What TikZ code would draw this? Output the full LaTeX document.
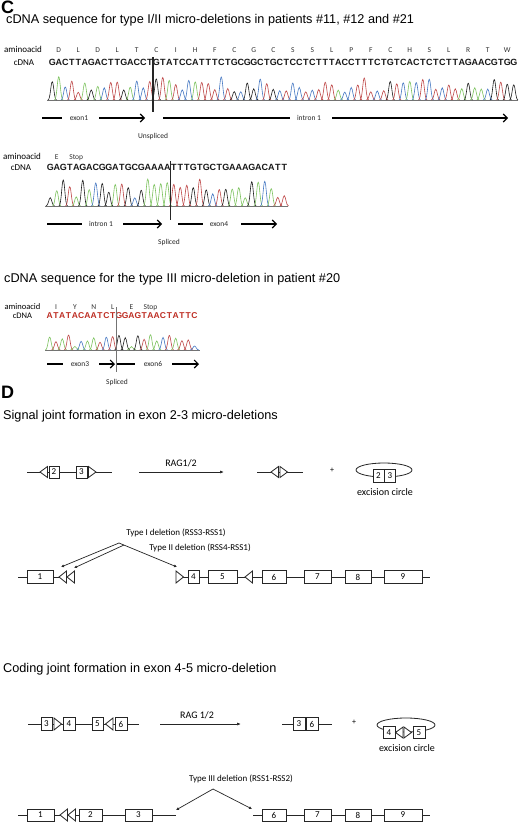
\documentclass[tikz,border=0pt]{standalone}
\usepackage{fontspec}
\setmainfont{Liberation Sans}
\newfontfamily\calfont{Carlito}
\usetikzlibrary{arrows.meta}
\definecolor{baseA}{RGB}{125,195,95}
\definecolor{baseC}{RGB}{70,120,195}
\definecolor{baseG}{RGB}{30,30,30}
\definecolor{baseT}{RGB}{190,70,70}
\definecolor{seqred}{RGB}{190,45,35}

\tikzset{
  gline/.style={line width=0.8pt, draw=black!85},
  gbox/.style={draw=black!85, line width=0.8pt, fill=white, inner sep=0pt, minimum height=13pt,
    font=\calfont\fontsize{9}{9}\selectfont},
  tri/.style={draw=black!85, line width=0.8pt, fill=white, line join=miter},
  peak/.style={line width=0.6pt},
  chrombase/.style={line width=0.5pt, draw=black!55},
  lab7/.style={font=\calfont\fontsize{7.5}{8}\selectfont, inner sep=0pt, text=black!85},
  lab8/.style={font=\calfont\fontsize{8}{9}\selectfont, inner sep=0pt},
  lab9/.style={font=\calfont\fontsize{9}{10}\selectfont, inner sep=0pt, anchor=base},
  lab10/.style={font=\calfont\fontsize{10}{11}\selectfont, inner sep=0pt, anchor=base},
  rowlab/.style={font=\calfont\fontsize{9}{10}\selectfont, inner sep=0pt, anchor=base},
  rowlabs/.style={font=\calfont\fontsize{8.5}{9}\selectfont, inner sep=0pt, anchor=base},
  titletxt/.style={font=\fontsize{12.7}{14}\selectfont, anchor=base west, inner sep=0pt},
  paneltxt/.style={font=\bfseries\fontsize{18}{18}\selectfont, anchor=base west, inner sep=0pt},
  seqbold/.style={font=\bfseries\fontsize{9}{9}\selectfont, anchor=base, inner sep=0pt, text=black!90},
  seqredtxt/.style={font=\bfseries\fontsize{8.5}{9}\selectfont, anchor=base, inner sep=0pt, text=seqred},
  aafont/.style={font=\calfont\fontsize{7.5}{8}\selectfont, anchor=base, inner sep=0pt, text=black!80},
  seqline/.style={line width=1.1pt, draw=black},
  seqarr/.style={line width=1.1pt, draw=black, -{Straight Barb[length=4pt,width=8pt]}},
  cutline/.style={line width=1.3pt, draw=black!85},
  ragarrow/.style={line width=0.7pt, draw=black!85, -{Latex[length=4pt,width=3pt]}},
  delarrow/.style={line width=0.7pt, draw=black!85, {Latex[length=3pt,width=3pt]}-{Latex[length=3pt,width=3pt]}},
  delarrowone/.style={line width=0.7pt, draw=black!85, -{Latex[length=3pt,width=3pt]}},
}

\newcommand{\chromat}[7]{%
  \pgfmathsetseed{#4}%
  \foreach \b [count=\i] in {#7} {%
    \pgfmathsetmacro{\xx}{#1+(\i-0.5)*#3}%
    \pgfmathsetmacro{\hh}{#5+rnd*#6}%
    \draw[peak,color=base\b] (\xx-4.3,#2) .. controls (\xx-1.9,#2) and (\xx-1.4,#2-\hh) .. (\xx,#2-\hh) .. controls (\xx+1.4,#2-\hh) and (\xx+1.9,#2) .. (\xx+4.3,#2);
  }}
\newcommand{\seqtext}[6]{%
  \foreach \b [count=\i] in {#6} {%
    \pgfmathsetmacro{\xx}{#1+(\i-0.5)*#3}%
    \node[#4] (#5\i) at (\xx,#2) {\b};
  }}
\newcommand{\triL}[3]{\draw[tri] (#1,#2) -- (#1+7.5,#2-#3) -- (#1+7.5,#2+#3) -- cycle;}
\newcommand{\triR}[3]{\draw[tri] (#1,#2-#3) -- (#1+7.5,#2) -- (#1,#2+#3) -- cycle;}

\begin{document}
\begin{tikzpicture}[x=1pt,y=-1pt]
\useasboundingbox (0,0) rectangle (520,824);
\fill[white] (0,0) rectangle (520,824);

% ---------------- Panel C ----------------
\node[paneltxt] (panC) at (1,13.8) {C};
\node[titletxt] (title1) at (6,23.5) {cDNA sequence for type I/II micro-deletions in patients \#11, \#12 and \#21};

% block 1
\node[rowlab] (aa1lab) at (23,53) {aminoacid};
\node[rowlab] (cd1lab) at (24,66) {cDNA};
\seqtext{49}{53}{19.5}{aafont}{aa}{D,L,D,L,T,C,I,H,F,C,G,C,S,S,L,P,F,C,H,S,L,R,T,W}
\seqtext{49}{66}{6.5}{seqbold}{sa}{G,A,C,T,T,A,G,A,C,T,T,G,A,C,C,T,G,T,A,T,C,C,A,T,T,T,C,T,G,C,G,G,C,T,G,C,T,C,C,T,C,T,T,T,A,C,C,T,T,T,C,T,G,T,C,A,C,T,C,T,C,T,T,A,G,A,A,C,G,T,G,G}
\draw[chrombase] (47,100) -- (518,100);
\chromat{49}{100}{6.5}{11}{7}{17}{G,A,C,T,T,A,G,A,C,T,T,G,A,C,C,T,G,T,A,T,C,C,A,T,T,T,C,T,G,C,G,G,C,T,G,C,T,C,C,T,C,T,T,T,A,C,C,T,T,T,C,T,G,T,C,A,C,T,C,T,C,T,T,A,G,A,A,C,G,T,G,G}
\coordinate (cut1a) at (153,57); \coordinate (cut1b) at (153,112);
\draw[cutline] (cut1a) -- (cut1b);
\coordinate (r1a) at (42,118); \coordinate (r1b) at (62,118);
\coordinate (r1c) at (99,118); \coordinate (r1d) at (145,118);
\coordinate (r1e) at (163,118); \coordinate (r1f) at (290,118);
\coordinate (r1g) at (332,118); \coordinate (r1h) at (508,118);
\draw[seqline] (r1a) -- (r1b);
\node[lab7] (exon1) at (79,118) {exon1};
\draw[seqarr] (r1c) -- (r1d);
\draw[seqline] (r1e) -- (r1f);
\node[lab7] (intron1a) at (309,118) {intron 1};
\draw[seqarr] (r1g) -- (r1h);
\node[lab7] (unspl) at (153,137) {Unspliced};

% block 2
\node[rowlab] (aa2lab) at (22,159) {aminoacid};
\node[rowlab] (cd2lab) at (21,170) {cDNA};
\seqtext{47}{159}{19.5}{aafont}{ab}{E,Stop}
\seqtext{47}{170}{6.5}{seqbold}{sb}{G,A,G,T,A,G,A,C,G,G,A,T,G,C,G,A,A,A,A,T,T,T,G,T,G,C,T,G,A,A,A,G,A,C,A,T,T}
\draw[chrombase] (45,206) -- (288,206);
\chromat{47}{206}{6.5}{23}{8}{19}{G,A,G,T,A,G,A,C,G,G,A,T,G,C,G,A,A,A,A,T,T,T,G,T,G,C,T,G,A,A,A,G,A,C,A,T,T}
\coordinate (cut2a) at (170.5,161); \coordinate (cut2b) at (170.5,220);
\draw[cutline] (cut2a) -- (cut2b);
\coordinate (r2a) at (47,224); \coordinate (r2b) at (82,224);
\coordinate (r2c) at (123,224); \coordinate (r2d) at (162,224);
\coordinate (r2e) at (178,224); \coordinate (r2f) at (203,224);
\coordinate (r2g) at (241,224); \coordinate (r2h) at (277,224);
\draw[seqline] (r2a) -- (r2b);
\node[lab7] (intron1b) at (101,224) {intron 1};
\draw[seqarr] (r2c) -- (r2d);
\draw[seqline] (r2e) -- (r2f);
\node[lab7] (exon4) at (219,224) {exon4};
\draw[seqarr] (r2g) -- (r2h);
\node[lab7] (spl1) at (169,242) {Spliced};

% block 3
\node[titletxt] (title2) at (4,282) {cDNA sequence for the type III micro-deletion in patient \#20};
\node[rowlabs] (aa3lab) at (22.5,309.5) {aminoacid};
\node[rowlabs] (cd3lab) at (22.5,318) {cDNA};
\seqtext{46.5}{309.5}{18.9}{aafont}{ac}{I,Y,N,L,E,Stop}
\seqtext{46.5}{318}{6.3}{seqredtxt}{sc}{A,T,A,T,A,C,A,A,T,C,T,G,G,A,G,T,A,A,C,T,A,T,T,C}
\draw[chrombase] (45,350) -- (200,350);
\chromat{46.5}{350}{6.3}{37}{3}{13}{A,T,A,T,A,C,A,A,T,C,T,G,G,A,G,T,A,A,C,T,A,T,T,C}
\coordinate (cut3a) at (116,307); \coordinate (cut3b) at (116,372);
\draw[line width=0.8pt, draw=black!55] (cut3a) -- (cut3b);
\coordinate (r3a) at (47,364); \coordinate (r3b) at (63,364);
\coordinate (r3c) at (99,364); \coordinate (r3d) at (115,364);
\coordinate (r3e) at (117,364); \coordinate (r3f) at (135,364);
\coordinate (r3g) at (172,364); \coordinate (r3h) at (199,364);
\draw[seqline] (r3a) -- (r3b);
\node[lab7] (exon3) at (80,364) {exon3};
\draw[seqarr] (r3c) -- (r3d);
\draw[seqline] (r3e) -- (r3f);
\node[lab7] (exon6) at (153,364) {exon6};
\draw[seqarr] (r3g) -- (r3h);
\node[lab7] (spl2) at (117,382) {Spliced};

% ---------------- Panel D ----------------
\node[paneltxt] (panD) at (1,398) {D};
\node[titletxt] (title3) at (3,419) {Signal joint formation in exon 2-3 micro-deletions};

% signal joint row
\coordinate (sj0) at (27,472); \coordinate (sj1) at (112,472);
\draw[gline] (sj0) -- (sj1);
\triL{40}{472}{5.5}
\node[gbox,minimum width=10pt,minimum height=12pt] (sjb2) at (54,472) {2};
\node[gbox,minimum width=11pt,minimum height=12pt] (sjb3) at (81.5,472) {3};
\triR{88.5}{472}{5.5}

\coordinate (rag1a) at (139,472); \coordinate (rag1b) at (224,472);
\draw[ragarrow] (rag1a) -- (rag1b);
\node[lab10] (rag1) at (181,466) {RAG1/2};

\coordinate (sm0) at (257,472); \coordinate (sm1) at (303,472);
\draw[gline] (sm0) -- (sm1);
\triL{271}{472}{5.5}
\triR{280}{472}{5.5}

\node[lab8] (plus1) at (332,470) {+};

\draw[gline] (384,470) ellipse [x radius=28pt, y radius=7pt];
\node[gbox,minimum width=11pt] (ec2) at (378.5,476) {2};
\node[gbox,minimum width=11pt] (ec3) at (390,476) {3};
\node[lab10] (exc1) at (385,495) {excision circle};

% type I/II row
\coordinate (g1a) at (18,577); \coordinate (g1b) at (66,577);
\coordinate (g1c) at (176,577); \coordinate (g1d) at (430,577);
\draw[gline] (g1a) -- (g1b);
\draw[gline] (g1c) -- (g1d);
\node[gbox,minimum width=26pt] (a1) at (40,577) {1};
\triL{59}{577}{6}
\triL{67}{577}{6}
\triR{176}{577}{6}
\node[gbox,minimum width=11pt] (a4) at (193.5,577) {4};
\node[gbox,minimum width=29pt] (a5) at (222.5,577) {5};
\triL{245}{577}{6}
\node[gbox,minimum width=24pt] (a6) at (274,577) {6};
\node[gbox,minimum width=27pt] (a7) at (317.5,577) {7};
\node[gbox,minimum width=26pt] (a8) at (358,577) {8};
\node[gbox,minimum width=38pt] (a9) at (403,577) {9};

\coordinate (d1L) at (61,567); \coordinate (d2L) at (74,568); \coordinate (dR) at (177,567);
\coordinate (p1) at (119,543); \coordinate (p2) at (124,545);
\draw[delarrow] (d1L) -- (p1) -- (dR);
\draw[delarrowone] (p2) -- (d2L);
\node[lab9] (tI) at (176,535) {Type I deletion (RSS3-RSS1)};
\node[lab9] (tII) at (200,550) {Type II deletion (RSS4-RSS1)};

% coding joint
\node[titletxt] (title4) at (3,672) {Coding joint formation in exon 4-5 micro-deletion};

\coordinate (cj0) at (28,724); \coordinate (cj1) at (139,724);
\draw[gline] (cj0) -- (cj1);
\node[gbox,minimum width=11pt] (cb3) at (46.5,724) {3};
\triR{54}{724}{6}
\node[gbox,minimum width=12pt] (cb4) at (69,724) {4};
\node[gbox,minimum width=11pt] (cb5) at (97.5,724) {5};
\triL{105.5}{724}{6}
\node[gbox,minimum width=12pt] (cb6) at (121,724) {6};

\coordinate (rag2a) at (160,724); \coordinate (rag2b) at (241,724);
\draw[ragarrow] (rag2a) -- (rag2b);
\node[lab10] (rag2) at (197,718) {RAG 1/2};

\coordinate (cm0) at (282,724); \coordinate (cm1) at (332,724);
\draw[gline] (cm0) -- (cm1);
\node[gbox,minimum width=12pt] (cm3) at (299,724) {3};
\node[gbox,minimum width=12pt] (cm6) at (312,724) {6};

\node[lab8] (plus2) at (354,722) {+};

\draw[gline] (406,725) ellipse [x radius=29pt, y radius=7pt];
\node[gbox,minimum width=12pt,minimum height=12pt] (ce4) at (389,732.5) {4};
\node[gbox,minimum width=12pt,minimum height=12pt] (ce5) at (419,732.5) {5};
\triL{395.5}{732.5}{5.5}
\triR{404}{732.5}{5.5}
\node[lab10] (exc2) at (407,751) {excision circle};

% type III row
\node[lab9] (tIII) at (241,781) {Type III deletion (RSS1-RSS2)};
\coordinate (h1a) at (18,815); \coordinate (h1b) at (176,815);
\coordinate (h1c) at (253,815); \coordinate (h1d) at (430,815);
\draw[gline] (h1a) -- (h1b);
\draw[gline] (h1c) -- (h1d);
\node[gbox,minimum width=27pt,minimum height=12pt] (b1) at (40.5,815) {1};
\triL{60}{815}{6}
\triL{68}{815}{6}
\node[gbox,minimum width=23pt,minimum height=12pt] (b2) at (90.5,815) {2};
\node[gbox,minimum width=27pt,minimum height=12pt] (b3) at (138.5,815) {3};
\node[gbox,minimum width=24pt,minimum height=12pt] (b6) at (274,815) {6};
\node[gbox,minimum width=27pt,minimum height=12pt] (b7) at (317.5,815) {7};
\node[gbox,minimum width=26pt,minimum height=12pt] (b8) at (358,815) {8};
\node[gbox,minimum width=38pt,minimum height=12pt] (b9) at (403,815) {9};
\coordinate (q) at (213,789); \coordinate (qL) at (176,810); \coordinate (qR) at (252,809);
\draw[delarrow] (qL) -- (q) -- (qR);
\end{tikzpicture}
\end{document}
